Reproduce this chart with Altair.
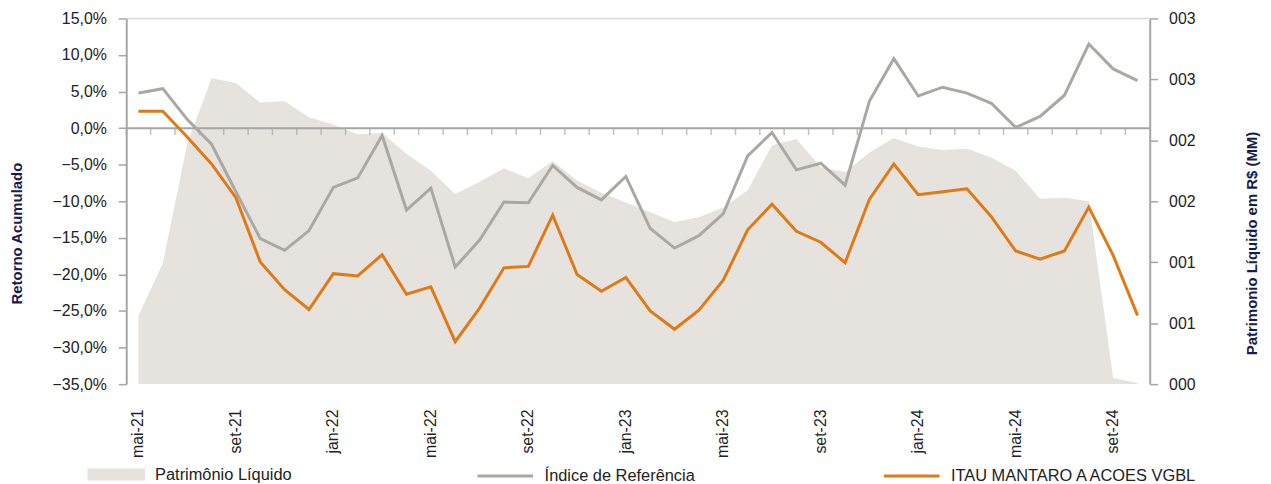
import altair as alt
import pandas as pd

months = ["mai-21", "jun-21", "jul-21", "ago-21", "set-21", "out-21", "nov-21", "dez-21",
          "jan-22", "fev-22", "mar-22", "abr-22", "mai-22", "jun-22", "jul-22", "ago-22",
          "set-22", "out-22", "nov-22", "dez-22", "jan-23", "fev-23", "mar-23", "abr-23",
          "mai-23", "jun-23", "jul-23", "ago-23", "set-23", "out-23", "nov-23", "dez-23",
          "jan-24", "fev-24", "mar-24", "abr-24", "mai-24", "jun-24", "jul-24", "ago-24",
          "set-24", "out-24"]

fundo = [2.3, 2.3, -1.2, -4.9, -9.5, -18.3, -22.1, -24.8, -19.9, -20.2, -17.3, -22.7,
         -21.7, -29.2, -24.6, -19.1, -18.9, -11.9, -20.0, -22.3, -20.4, -25.0, -27.5, -24.9,
         -20.8, -13.9, -10.4, -14.1, -15.6, -18.4, -9.7, -4.9, -9.1, -8.7, -8.3, -12.1,
         -16.8, -17.9, -16.8, -10.8, -17.4, -25.6]

indice = [4.8, 5.4, 1.2, -2.2, -8.7, -15.1, -16.7, -14.0, -8.1, -6.8, -1.0, -11.2,
          -8.2, -19.0, -15.3, -10.1, -10.2, -5.1, -8.1, -9.8, -6.6, -13.7, -16.4, -14.7,
          -11.7, -3.8, -0.6, -5.7, -4.8, -7.8, 3.7, 9.5, 4.4, 5.6, 4.8, 3.4,
          0.1, 1.6, 4.5, 11.5, 8.1, 6.5]

patrimonio = [0.56, 0.99, 1.97, 2.51, 2.47, 2.31, 2.32, 2.19, 2.13, 2.05, 2.06, 1.89,
              1.75, 1.56, 1.66, 1.77, 1.69, 1.83, 1.67, 1.57, 1.49, 1.41, 1.33, 1.37,
              1.45, 1.59, 1.96, 2.01, 1.78, 1.74, 1.90, 2.02, 1.95, 1.92, 1.93, 1.86,
              1.75, 1.52, 1.53, 1.50, 0.05, 0.01]

left_ticks = [-35, -30, -25, -20, -15, -10, -5, 0, 5, 10, 15]
right_ticks = [0, 0.5, 1, 1.5, 2, 2.5, 3]
x_labels = months[::4]

serie_pl = "Patrimônio Líquido"
serie_idx = "Índice de Referência"
serie_fundo = "ITAU MANTARO A ACOES VGBL"

C_AREA = "#E6E3DF"
C_GRAY = "#ABA8A4"
C_ORANGE = "#DF7A17"
C_AXIS = "#A6A6A6"
C_TITLE = "#171B4F"
C_TEXT = "#222222"
FONT = "Liberation Sans"

df_pl = pd.DataFrame({"mes": months, "valor": patrimonio, "serie_pl": serie_pl})
df_lines = pd.concat([
    pd.DataFrame({"mes": months, "valor": indice, "serie": serie_idx}),
    pd.DataFrame({"mes": months, "valor": fundo, "serie": serie_fundo}),
])
df_ticks = pd.DataFrame({"mes": months, "valor": 0.0})
df_top = pd.DataFrame({"valor": [max(left_ticks)]})
df_zero = pd.DataFrame({"valor": [0.0]})

xscale = alt.Scale(type="band", paddingInner=0, paddingOuter=0, domain=months)

x_axis = alt.Axis(
    values=x_labels, labelAngle=-90, labelFontSize=16, labelFont=FONT,
    labelColor=C_TEXT, domain=False, ticks=False, tickSize=0,
    labelPadding=25, title=None, grid=False,
)

left_axis = alt.Axis(
    orient="left", values=left_ticks,
    labelExpr="replace(format(datum.value, '.1f'), '.', ',') + '%'",
    labelFontSize=16, labelFont=FONT, labelColor=C_TEXT,
    domainColor=C_AXIS, domainWidth=2, tickColor=C_AXIS,
    tickWidth=1.5, tickSize=8, labelPadding=12, grid=False,
    title="Retorno Acumulado", titleFont=FONT, titleFontSize=15,
    titleFontWeight="bold", titleColor=C_TITLE, titleAngle=270,
    titleX=-110, titleY=216, titleAlign="center", titleBaseline="middle",
)

area = alt.Chart(df_pl).mark_area(color=C_AREA, opacity=1).encode(
    x=alt.X("mes:O", sort=months, scale=xscale, axis=x_axis, bandPosition=0.5),
    y=alt.Y("valor:Q",
            scale=alt.Scale(domain=[0, 3], nice=False, zero=True),
            axis=alt.Axis(
                orient="right", values=right_ticks, format="03.0f",
                labelFontSize=16, labelFont=FONT, labelColor=C_TEXT,
                domainColor=C_AXIS, domainWidth=2, tickColor=C_AXIS,
                tickWidth=1.5, tickSize=8, labelPadding=11, grid=False,
                title="Patrimonio Líquido em R$ (MM)", titleFont=FONT,
                titleFontSize=15, titleFontWeight="bold", titleColor=C_TITLE,
                titleAngle=270, titleX=102, titleY=226, titleAlign="center",
                titleBaseline="middle",
            )),
    fill=alt.Fill("serie_pl:N",
                  scale=alt.Scale(domain=[serie_pl], range=[C_AREA]),
                  legend=alt.Legend(
                      orient="none", legendX=-39, legendY=430, title=None,
                      symbolType="M-1,-0.21L1,-0.21L1,0.21L-1,0.21Z",
                      symbolSize=3364, symbolStrokeWidth=0, symbolOpacity=1,
                      labelFontSize=16.5, labelFont=FONT, labelColor=C_TEXT,
                      labelOffset=10, labelLimit=400,
                  )),
)

yleft = alt.Scale(domain=[min(left_ticks), max(left_ticks)], nice=False, zero=False)

lines = alt.Chart(df_lines).mark_line(strokeWidth=3, strokeJoin="miter").encode(
    x=alt.X("mes:O", sort=months, scale=xscale, axis=x_axis, bandPosition=0.5),
    y=alt.Y("valor:Q", scale=yleft, axis=left_axis),
    stroke=alt.Stroke("serie:N",
                      scale=alt.Scale(domain=[serie_idx, serie_fundo],
                                      range=[C_GRAY, C_ORANGE]),
                      legend=alt.Legend(
                          orient="none", legendX=352, legendY=431, title=None,
                          direction="horizontal", columns=2, columnPadding=183,
                          gridAlign="each",
                          symbolType="stroke", symbolSize=3136, symbolStrokeWidth=3,
                          labelFontSize=16.5, labelFont=FONT, labelColor=C_TEXT,
                          labelOffset=10, labelLimit=400,
                      )),
    order=alt.Order("serie:N", sort="descending"),
)

top_rule = alt.Chart(df_top).mark_rule(color="#D9D9D9", strokeWidth=1.5).encode(
    y=alt.Y("valor:Q", scale=yleft, axis=left_axis)
)
zero_rule = alt.Chart(df_zero).mark_rule(color=C_AXIS, strokeWidth=2).encode(
    y=alt.Y("valor:Q", scale=yleft, axis=left_axis)
)
ticks = alt.Chart(df_ticks).mark_tick(
    orient="vertical", size=7, thickness=1.5, color=C_AXIS, yOffset=3.5
).encode(
    x=alt.X("mes:O", sort=months, scale=xscale, axis=x_axis, bandPosition=0),
    y=alt.Y("valor:Q", scale=yleft, axis=left_axis),
)

left_layer = alt.layer(top_rule, zero_rule, ticks, lines)

chart = alt.layer(area, left_layer).resolve_scale(y="independent").properties(
    width=1030, height=368,
    autosize=alt.AutoSizeParams(type="none"),
    padding={"left": 119, "top": 9, "right": 114, "bottom": 99},
    background="white",
).configure_view(stroke=None)

chart.save("out.html", embed_options={"renderer": "svg", "actions": False})
